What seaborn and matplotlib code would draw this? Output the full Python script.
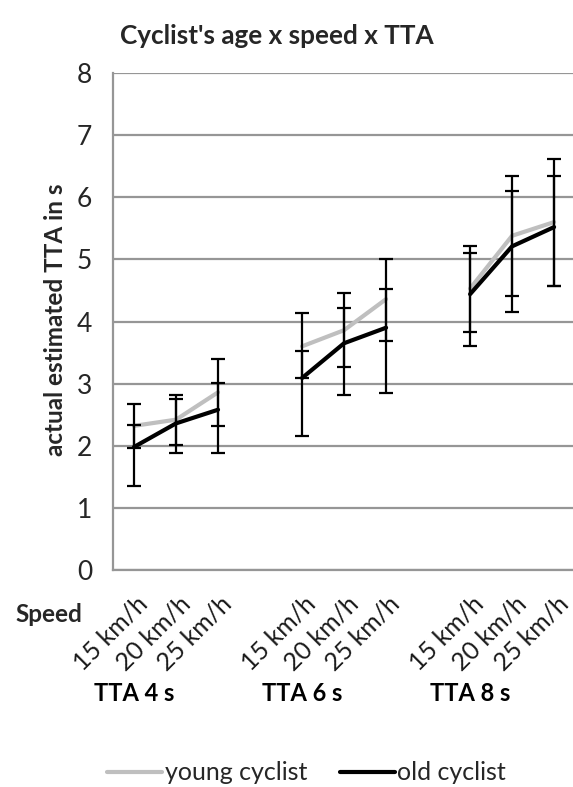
import pandas as pd
import numpy as np
import seaborn as sns
import matplotlib.pyplot as plt
from matplotlib.lines import Line2D
from matplotlib import transforms

# values
ttas = ['TTA 4 s', 'TTA 6 s', 'TTA 8 s']
speeds = ['15 km/h', '20 km/h', '25 km/h']

young_mean = [2.32, 2.42, 2.86, 3.60, 3.86, 4.36, 4.53, 5.38, 5.60]
young_lo = [1.96, 2.01, 2.31, 3.09, 3.26, 3.69, 3.83, 4.41, 4.57]
young_hi = [2.68, 2.81, 3.40, 4.13, 4.46, 5.01, 5.22, 6.35, 6.62]
old_mean = [1.98, 2.36, 2.58, 3.09, 3.65, 3.90, 4.44, 5.21, 5.52]
old_lo = [1.35, 1.88, 1.88, 2.16, 2.81, 2.85, 3.61, 4.16, 4.57]
old_hi = [2.33, 2.75, 3.01, 3.53, 4.22, 4.53, 5.10, 6.10, 6.35]

sns.set_style("white")
plt.rcParams['font.family'] = ['Lato', 'DejaVu Sans']

# one blank category between the TTA groups (like the excel chart)
rows = []
for age, means in [('young cyclist', young_mean), ('old cyclist', old_mean)]:
    for g, tta in enumerate(ttas):
        for s, sp in enumerate(speeds):
            rows.append({'age': age, 'tta': tta, 'speed': sp,
                         'pos': g * 4 + s, 'value': means[g * 3 + s]})
df = pd.DataFrame(rows)
positions = df[df.age == 'young cyclist'].pos.values

fig = plt.figure(figsize=(5.73, 7.87), dpi=100)
ax = fig.add_axes([113 / 573, 217 / 787, 460 / 573, 497 / 787])

colors = {'young cyclist': '#bfbfbf', 'old cyclist': 'black'}
sns.lineplot(data=df, x='pos', y='value', hue='age', units='tta', estimator=None,
             palette=colors, linewidth=3, ax=ax, legend=False)

for means, lo, hi in [(young_mean, young_lo, young_hi), (old_mean, old_lo, old_hi)]:
    m = np.array(means)
    yerr = [m - np.array(lo), np.array(hi) - m]
    ax.errorbar(positions, m, yerr=yerr, fmt='none', ecolor='black',
                elinewidth=1.6, capsize=5, capthick=1.6, zorder=5)

ax.set_ylim(0, 8)
ax.set_xlim(-0.5, 10.45)
ax.set_yticks(range(0, 9))
ax.yaxis.grid(True, color='#969696', linewidth=1.6)
ax.set_axisbelow(True)
for side in ['top', 'right']:
    ax.spines[side].set_visible(False)
for side in ['left', 'bottom']:
    ax.spines[side].set_color('#969696')
    ax.spines[side].set_linewidth(1.6)
ax.tick_params(axis='y', length=0, pad=15, labelsize=19, labelcolor='#262626')
ax.set_xticks(positions)
ax.set_xticklabels(speeds * 3, rotation=45, ha='right', va='top',
                   rotation_mode='anchor', fontsize=18, color='#1a1a1a')
ax.tick_params(axis='x', length=0, pad=16)
shift = transforms.ScaledTranslation(2 / 100, 0, fig.dpi_scale_trans)
for lab in ax.get_xticklabels():
    lab.set_transform(lab.get_transform() + shift)
ax.set_xlabel('')
ax.set_ylabel('')

trans = transforms.blended_transform_factory(ax.transData, ax.transAxes)
for g, tta in enumerate(ttas):
    ax.text(g * 4, -0.249, tta, transform=trans, ha='center', va='center',
            fontsize=17, fontweight='bold', color='black')

fig.text(15 / 573, 1 - 614 / 787, 'Speed', ha='left', va='center',
         fontsize=17.5, fontweight='bold')
fig.text(56 / 573, 1 - 320 / 787, 'actual estimated TTA in s', rotation=90,
         ha='center', va='center', fontsize=17.5, fontweight='bold')
fig.text(277 / 573, 1 - 36 / 787, "Cyclist's age x speed x TTA", ha='center',
         va='center', fontsize=18.8, fontweight='bold')

handles = [Line2D([], [], color=colors[k], linewidth=3) for k in colors]
fig.legend(handles, list(colors), loc='center', bbox_to_anchor=(0.535, 1 - 773 / 787),
           ncol=2, frameon=False, fontsize=18, handlelength=2.2, handletextpad=0.1,
           columnspacing=1.3)

plt.savefig('out.png', dpi=100)
